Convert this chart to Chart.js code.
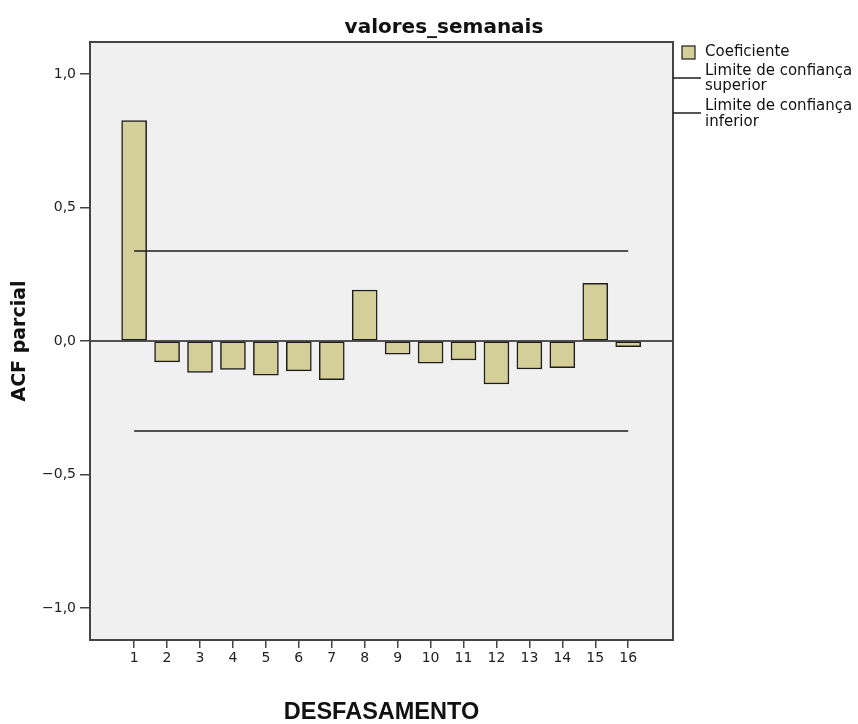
<!DOCTYPE html>
<html>
<head>
<meta charset="utf-8">
<title>valores_semanais</title>
<script src="https://cdn.jsdelivr.net/npm/chart.js@4/dist/chart.umd.min.js"></script>
<style>
  html, body { margin: 0; padding: 0; background: #ffffff; }
  #wrap { width: 858px; height: 724px; position: relative; }
</style>
</head>
<body>
<div id="wrap"><canvas id="chart" width="858" height="724"></canvas></div>
<script>
// Lags (categories) and partial autocorrelation coefficients
const lags = [1, 2, 3, 4, 5, 6, 7, 8, 9, 10, 11, 12, 13, 14, 15, 16];
const pacf = [0.826, -0.078, -0.118, -0.106, -0.128, -0.112, -0.145, 0.191,
              -0.049, -0.083, -0.071, -0.161, -0.105, -0.100, 0.216, -0.021];

// Confidence limits
const upperLimit = 0.337;
const lowerLimit = -0.337;

// Y axis ticks
const yTickValues = [-1, -0.5, 0, 0.5, 1];
const yTickLabels = ['\u22121,0', '\u22120,5', '0,0', '0,5', '1,0'];

// Text
const chartTitle = 'valores_semanais';
const xTitle = 'DESFASAMENTO';
const yTitle = 'ACF parcial';
const legendCoef = 'Coeficiente';
const legendUpper = ['Limite de confiança', 'superior'];
const legendLower = ['Limite de confiança', 'inferior'];

const barFill = '#d4cf99';
const inkColor = '#1e1e1e';
const axisColor = '#444444';

// Plot background, zero reference line, frame, title and legend
const decorations = {
  id: 'decorations',
  beforeDraw(chart) {
    const { ctx, chartArea: a } = chart;
    ctx.save();
    ctx.fillStyle = '#f0f0f0';
    ctx.fillRect(a.left, a.top, a.right - a.left, a.bottom - a.top);
    ctx.restore();
  },
  afterDatasetsDraw(chart) {
    const { ctx, chartArea: a, scales } = chart;
    const y0 = scales.y.getPixelForValue(0);
    ctx.save();
    ctx.strokeStyle = inkColor;
    ctx.lineWidth = 1.5;
    ctx.beginPath();
    ctx.moveTo(a.left, y0);
    ctx.lineTo(a.right, y0);
    ctx.stroke();

    ctx.strokeStyle = axisColor;
    ctx.lineWidth = 2;
    ctx.strokeRect(a.left, a.top, a.right - a.left, a.bottom - a.top);
    ctx.restore();
  },
  afterDraw(chart) {
    const { ctx, chartArea: a } = chart;
    ctx.save();
    // Title
    ctx.fillStyle = '#111';
    ctx.font = 'bold 20px "DejaVu Sans"';
    ctx.textAlign = 'center';
    ctx.textBaseline = 'alphabetic';
    ctx.fillText(chartTitle, 444, 33);

    // Legend
    const lx = a.right;
    ctx.font = '15px "DejaVu Sans"';
    ctx.textAlign = 'left';
    ctx.textBaseline = 'middle';
    ctx.fillStyle = barFill;
    ctx.fillRect(682, 46, 13, 13);
    ctx.strokeStyle = inkColor;
    ctx.lineWidth = 1.2;
    ctx.strokeRect(682, 46, 13, 13);
    ctx.fillStyle = '#111';
    ctx.fillText(legendCoef, 705, 52);

    ctx.strokeStyle = inkColor;
    ctx.lineWidth = 1.5;
    ctx.beginPath();
    ctx.moveTo(lx, 78); ctx.lineTo(701, 78);
    ctx.moveTo(lx, 113); ctx.lineTo(701, 113);
    ctx.stroke();
    ctx.fillText(legendUpper[0], 705, 71);
    ctx.fillText(legendUpper[1], 705, 86);
    ctx.fillText(legendLower[0], 705, 106);
    ctx.fillText(legendLower[1], 705, 122);
    ctx.restore();
  }
};

const ctx = document.getElementById('chart').getContext('2d');
new Chart(ctx, {
  type: 'bar',
  data: {
    datasets: [
      {
        type: 'line',
        label: legendUpper.join(' '),
        data: lags.map(l => ({ x: l, y: upperLimit })),
        borderColor: inkColor,
        borderWidth: 1.5,
        pointRadius: 0,
        fill: false,
        order: 1
      },
      {
        type: 'line',
        label: legendLower.join(' '),
        data: lags.map(l => ({ x: l, y: lowerLimit })),
        borderColor: inkColor,
        borderWidth: 1.5,
        pointRadius: 0,
        fill: false,
        order: 1
      },
      {
        type: 'bar',
        label: legendCoef,
        data: lags.map((l, i) => ({ x: l, y: pacf[i] })),
        backgroundColor: barFill,
        borderColor: inkColor,
        borderWidth: 1.5,
        borderSkipped: false,
        barThickness: 25,
        order: 2
      }
    ]
  },
  options: {
    responsive: false,
    animation: false,
    layout: { padding: { top: 42, right: 185, left: 0, bottom: 0 } },
    plugins: {
      legend: { display: false },
      title: { display: false },
      tooltip: { enabled: false }
    },
    scales: {
      x: {
        type: 'linear',
        offset: false,
        min: -0.34,
        max: 17.36,
        afterBuildTicks(scale) {
          scale.ticks = lags.map(v => ({ value: v }));
        },
        afterFit(scale) { scale.height = 84; },
        ticks: {
          autoSkip: false,
          maxRotation: 0,
          padding: 2,
          color: '#222',
          font: { family: 'DejaVu Sans', size: 14 },
          callback: (v) => String(v)
        },
        grid: {
          display: true,
          offset: false,
          drawOnChartArea: false,
          drawTicks: true,
          tickLength: 8,
          color: axisColor,
          lineWidth: 1.5
        },
        border: { display: false },
        title: {
          display: true,
          text: xTitle,
          color: '#111',
          font: { family: 'Liberation Sans', size: 23.5, weight: 'bold', lineHeight: 1 },
          padding: { top: 0, bottom: 0 }
        }
      },
      y: {
        type: 'linear',
        min: -1.12,
        max: 1.12,
        afterBuildTicks(scale) {
          scale.ticks = yTickValues.map(v => ({ value: v }));
        },
        afterFit(scale) { scale.width = 90; },
        ticks: {
          padding: 4,
          color: '#222',
          font: { family: 'DejaVu Sans', size: 14 },
          callback: (v) => yTickLabels[yTickValues.indexOf(v)]
        },
        grid: {
          display: true,
          drawOnChartArea: false,
          drawTicks: true,
          tickLength: 10,
          color: axisColor,
          lineWidth: 1.5
        },
        border: { display: false },
        title: {
          display: true,
          text: yTitle,
          color: '#111',
          font: { family: 'DejaVu Sans', size: 19, weight: 'bold', lineHeight: 1.2 },
          padding: { top: 9, bottom: 0 }
        }
      }
    }
  },
  plugins: [decorations]
});
</script>
</body>
</html>
